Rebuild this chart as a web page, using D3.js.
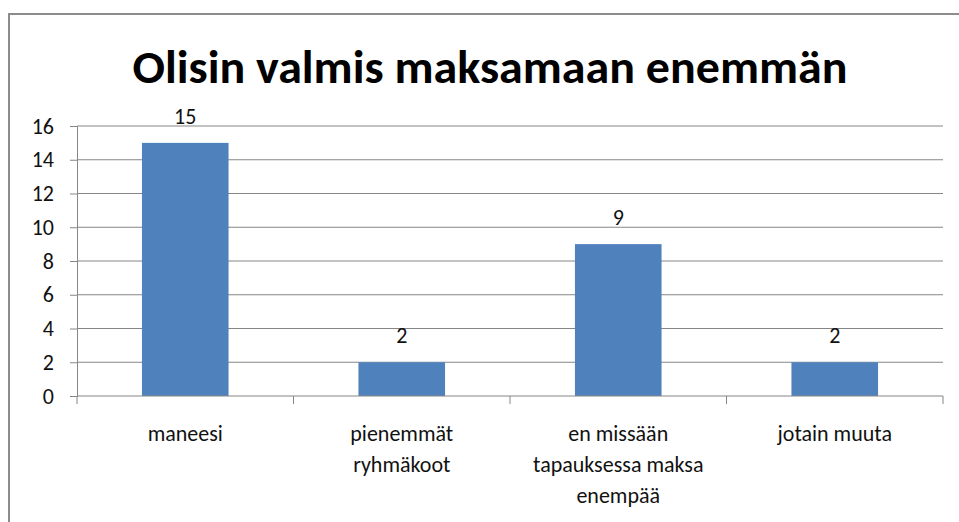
<!DOCTYPE html>
<html>
<head>
<meta charset="utf-8">
<script src="https://cdn.jsdelivr.net/npm/d3@7"></script>
<style>
  body { margin: 0; background: #fff; }
  text { font-family: Carlito, "Liberation Sans Narrow", "Open Sans", sans-serif; }
</style>
</head>
<body>
<svg id="chart" width="959" height="522"></svg>
<script>
// chart data
var categories = [
    ["maneesi"],
    ["pienemmät", "ryhmäkoot"],
    ["en missään", "tapauksessa maksa", "enempää"],
    ["jotain muuta"]
];
var values = [15, 2, 9, 2];
var yTicks = [0, 2, 4, 6, 8, 10, 12, 14, 16];
var title = "Olisin valmis maksamaan enemmän";

var svg = d3.select("#chart");
var plotLeft = 77, plotRight = 943, plotTop = 126, plotBottom = 396;
var axisColor = "#868686";
var fontStack = "Carlito, 'Liberation Sans Narrow', 'Open Sans', sans-serif";

// outer frame, cut off at right and bottom like the screenshot
svg.append("rect")
    .attr("x", 9)
    .attr("y", 14)
    .attr("width", 1000)
    .attr("height", 1000)
    .attr("fill", "none")
    .attr("stroke", "#8c8c8c")
    .attr("stroke-width", 2);

svg.append("text")
    .attr("x", 490)
    .attr("y", 83)
    .attr("text-anchor", "middle")
    .attr("font-size", 47)
    .attr("font-weight", "bold")
    .attr("textLength", 715)
    .attr("lengthAdjust", "spacingAndGlyphs")
    .text(title);

var xScale = d3.scaleBand()
    .domain(d3.range(categories.length))
    .range([plotLeft, plotRight])
    .padding(0);

var yScale = d3.scaleLinear()
    .domain([0, 16])
    .range([plotBottom, plotTop]);

// gridlines
svg.append("g")
    .selectAll("line")
    .data(yTicks.filter(d => d > 0))
    .enter().append("line")
    .attr("x1", plotLeft)
    .attr("x2", plotRight)
    .attr("y1", d => yScale(d))
    .attr("y2", d => yScale(d))
    .attr("stroke", axisColor)
    .attr("stroke-width", 1);

// y axis
var yAxis = d3.axisLeft(yScale)
    .tickValues(yTicks)
    .tickSize(7)
    .tickPadding(16);
var gy = svg.append("g")
    .attr("transform", "translate(" + plotLeft + ",0)")
    .call(yAxis);
gy.select(".domain").attr("stroke", axisColor);
gy.selectAll(".tick line").attr("stroke", axisColor);
gy.selectAll(".tick text")
    .attr("font-size", 22)
    .attr("fill", "#111")
    .style("font-family", fontStack);

// bars
var barWidth = xScale.bandwidth() * 0.4;
svg.append("g")
    .selectAll("rect")
    .data(values)
    .enter().append("rect")
    .attr("x", (d, i) => xScale(i) + (xScale.bandwidth() - barWidth) / 2)
    .attr("y", d => yScale(d))
    .attr("width", barWidth)
    .attr("height", d => yScale(0) - yScale(d))
    .attr("fill", "#4f81bd");

// value labels
svg.append("g")
    .selectAll("text")
    .data(values)
    .enter().append("text")
    .attr("x", (d, i) => xScale(i) + xScale.bandwidth() / 2)
    .attr("y", d => yScale(d) - 19)
    .attr("text-anchor", "middle")
    .attr("font-size", 22)
    .attr("fill", "#111")
    .text(d => d);

// x axis: ticks at band boundaries
var xEdges = d3.range(categories.length + 1).map(i => plotLeft + i * xScale.step());
var gx = svg.append("g");
gx.append("line")
    .attr("x1", plotLeft)
    .attr("x2", plotRight)
    .attr("y1", plotBottom)
    .attr("y2", plotBottom)
    .attr("stroke", axisColor);
gx.selectAll(".edge")
    .data(xEdges)
    .enter().append("line")
    .attr("class", "edge")
    .attr("x1", d => d)
    .attr("x2", d => d)
    .attr("y1", plotBottom)
    .attr("y2", plotBottom + 8)
    .attr("stroke", axisColor);

// category labels (multi-line)
var labels = svg.append("g")
    .selectAll("text")
    .data(categories)
    .enter().append("text")
    .attr("x", (d, i) => xScale(i) + xScale.bandwidth() / 2)
    .attr("y", 441)
    .attr("text-anchor", "middle")
    .attr("font-size", 22)
    .attr("fill", "#111");
labels.selectAll("tspan")
    .data(d => d)
    .enter().append("tspan")
    .attr("x", function() { return d3.select(this.parentNode).attr("x"); })
    .attr("dy", (d, i) => i === 0 ? 0 : 31)
    .text(d => d);
</script>
</body>
</html>
